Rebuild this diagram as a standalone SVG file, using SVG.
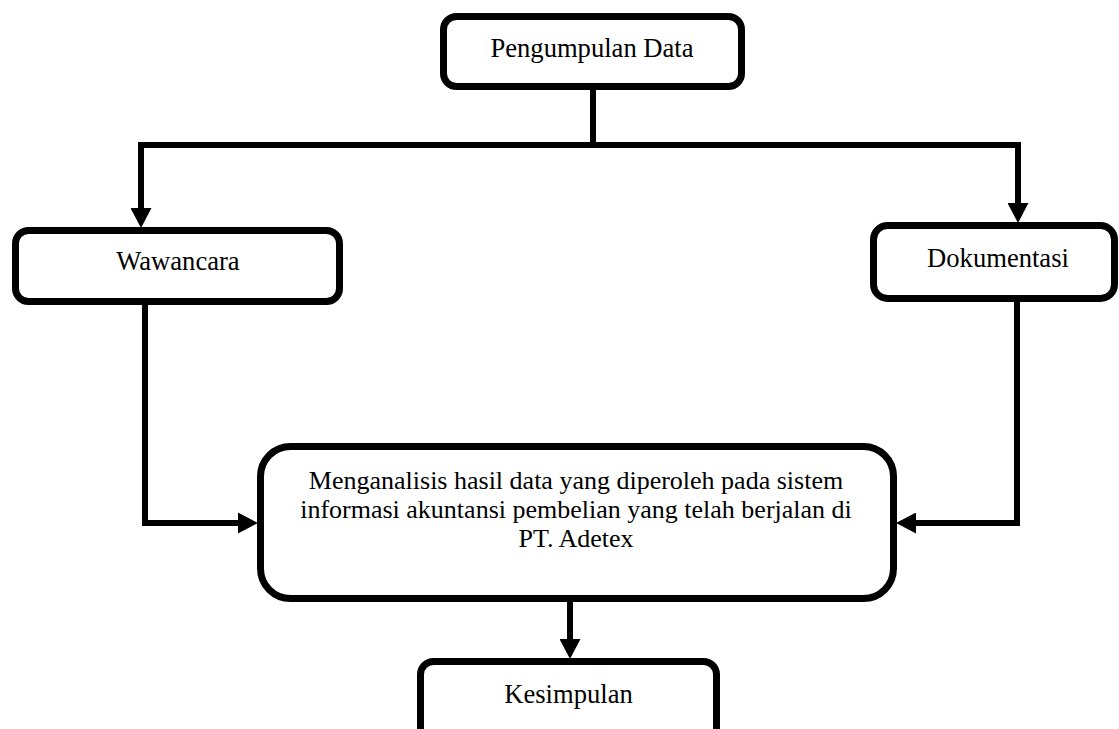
<svg xmlns="http://www.w3.org/2000/svg" width="1119" height="729" viewBox="0 0 1119 729">
  <style>
    .box { fill: #ffffff; stroke: #000000; stroke-width: 7; }
    .lbl { font-family: "Liberation Serif", "Times New Roman", serif; font-size: 26.6px; fill: #000000; text-anchor: middle; }
    .lbl.multi { font-size: 26px; }
    .wire { fill: none; stroke: #000000; stroke-width: 6; stroke-linejoin: miter; }
  </style>
  <defs>
    <marker id="head" markerUnits="userSpaceOnUse" markerWidth="20" markerHeight="21" refX="0" refY="10.5" orient="auto-start-reverse" viewBox="0 0 20 21">
      <path d="M0,0 L20,10.5 L0,21 Z" fill="#000000"/>
    </marker>
  </defs>
  <rect width="1119" height="729" fill="#ffffff"/>

  <g id="connectors">
    <path class="wire" d="M593,88 V145"/>
    <path class="wire" d="M141,208 V145 H1018 V203" marker-start="url(#head)" marker-end="url(#head)"/>
    <path class="wire" d="M145,303 V523 H238" marker-end="url(#head)"/>
    <path class="wire" d="M1017,300 V523 H916" marker-end="url(#head)"/>
    <path class="wire" d="M570,600 V639" marker-end="url(#head)"/>
  </g>

  <g id="pengumpulan-data">
    <rect class="box" x="443.5" y="16.5" width="298" height="70" rx="13"/>
    <text class="lbl" x="592" y="57">Pengumpulan Data</text>
  </g>

  <g id="wawancara">
    <rect class="box" x="15.5" y="230.5" width="324" height="71" rx="13"/>
    <text class="lbl" x="178" y="270">Wawancara</text>
  </g>

  <g id="dokumentasi">
    <rect class="box" x="873.5" y="225.5" width="241" height="73" rx="14"/>
    <text class="lbl" x="998" y="267">Dokumentasi</text>
  </g>

  <g id="analisis">
    <rect class="box" x="260.5" y="446.5" width="633" height="152" rx="30"/>
    <text class="lbl multi" x="576" y="489">Menganalisis hasil data yang diperoleh pada sistem</text>
    <text class="lbl multi" x="576" y="518">informasi akuntansi pembelian yang telah berjalan di</text>
    <text class="lbl multi" x="576" y="547">PT. Adetex</text>
  </g>

  <g id="kesimpulan">
    <rect class="box" x="420.5" y="661.5" width="296" height="100" rx="13"/>
    <text class="lbl" x="568.5" y="703">Kesimpulan</text>
  </g>
</svg>
